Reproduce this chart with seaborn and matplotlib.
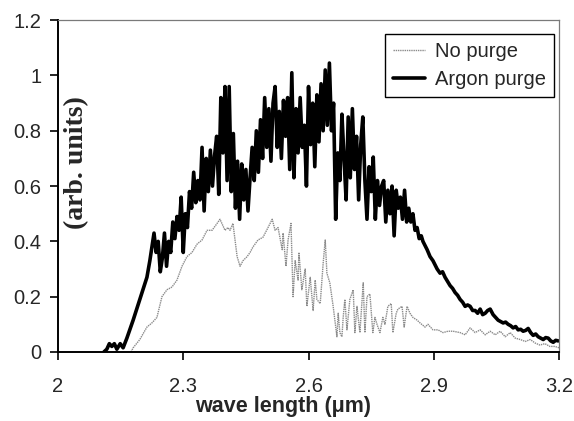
import matplotlib
matplotlib.use("Agg")
from matplotlib import pyplot as plt
import seaborn as sns
import pandas as pd

# Argon purge spectrum
argon_x = [2.110, 2.117, 2.123, 2.129, 2.135, 2.141, 2.149, 2.156, 2.165, 2.180, 2.196,
           2.213, 2.220, 2.225, 2.230, 2.235, 2.240, 2.245, 2.250, 2.255, 2.260, 2.265,
           2.270, 2.275, 2.280, 2.285, 2.290, 2.295, 2.300, 2.305, 2.310, 2.315, 2.320,
           2.325, 2.330, 2.335, 2.340, 2.345, 2.350, 2.355, 2.360, 2.365, 2.370, 2.375,
           2.380, 2.385, 2.390, 2.395, 2.400, 2.405, 2.410, 2.415, 2.420, 2.425, 2.430,
           2.435, 2.440, 2.445, 2.450, 2.455, 2.460, 2.465, 2.470, 2.475, 2.480, 2.485,
           2.490, 2.495, 2.500, 2.505, 2.510, 2.515, 2.520, 2.525, 2.530, 2.535, 2.540,
           2.545, 2.550, 2.555, 2.560, 2.565, 2.570, 2.575, 2.580, 2.585, 2.590, 2.595,
           2.600, 2.605, 2.610, 2.615, 2.620, 2.625, 2.630, 2.635, 2.640, 2.645, 2.650,
           2.655, 2.660, 2.665, 2.670, 2.675, 2.680, 2.685, 2.690, 2.695, 2.700, 2.705,
           2.710, 2.715, 2.720, 2.725, 2.730, 2.735, 2.740, 2.745, 2.750, 2.755, 2.760,
           2.765, 2.770, 2.775, 2.780, 2.785, 2.790, 2.795, 2.800, 2.805, 2.810, 2.815,
           2.820, 2.825, 2.830, 2.835, 2.840, 2.845, 2.850, 2.855, 2.860, 2.865, 2.870,
           2.874, 2.884, 2.891, 2.898, 2.908, 2.915, 2.921, 2.927, 2.933,
           2.939, 2.945, 2.951, 2.957, 2.963, 2.969, 2.975, 2.981, 2.987, 2.993, 2.999,
           3.005, 3.011, 3.017, 3.023, 3.029, 3.035, 3.042, 3.048, 3.054, 3.060, 3.066,
           3.072, 3.078, 3.084, 3.090, 3.096, 3.102, 3.108, 3.114, 3.120, 3.126, 3.132,
           3.138, 3.144, 3.150, 3.156, 3.162, 3.168, 3.174, 3.180, 3.186, 3.192, 3.198]
argon_y = [0.000, 0.010, 0.030, 0.020, 0.030, 0.010, 0.030, 0.015, 0.050, 0.115, 0.190,
           0.270, 0.330, 0.380, 0.430, 0.360, 0.400, 0.290, 0.340, 0.430, 0.310, 0.400,
           0.360, 0.470, 0.410, 0.490, 0.440, 0.560, 0.360, 0.500, 0.450, 0.580, 0.520,
           0.650, 0.540, 0.620, 0.550, 0.740, 0.510, 0.700, 0.580, 0.730, 0.600, 0.710,
           0.780, 0.570, 0.920, 0.720, 0.960, 0.620, 0.960, 0.580, 0.790, 0.520, 0.690,
           0.480, 0.680, 0.550, 0.660, 0.510, 0.630, 0.740, 0.620, 0.800, 0.650, 0.840,
           0.700, 0.920, 0.740, 0.880, 0.690, 0.900, 0.960, 0.740, 0.870, 0.700, 0.910,
           0.780, 0.920, 0.660, 1.010, 0.630, 0.880, 0.720, 0.920, 0.740, 0.820, 0.600,
           0.960, 0.750, 0.900, 0.670, 0.930, 0.760, 0.970, 0.800, 1.020, 0.820, 1.045,
           0.800, 0.900, 0.480, 0.720, 0.620, 0.860, 0.700, 0.550, 0.850, 0.630, 0.880,
           0.660, 0.780, 0.550, 0.750, 0.850, 0.620, 0.480, 0.670, 0.580, 0.705, 0.480,
           0.620, 0.530, 0.600, 0.620, 0.470, 0.585, 0.500, 0.600, 0.420, 0.585, 0.520,
           0.560, 0.480, 0.585, 0.470, 0.520, 0.470, 0.500, 0.440, 0.450, 0.410, 0.420,
           0.400, 0.370, 0.345, 0.330, 0.300, 0.285, 0.290, 0.270, 0.255,
           0.240, 0.230, 0.215, 0.205, 0.190, 0.180, 0.165, 0.170, 0.165, 0.150, 0.150,
           0.140, 0.155, 0.135, 0.140, 0.150, 0.155, 0.135, 0.125, 0.115, 0.110, 0.105,
           0.108, 0.100, 0.095, 0.087, 0.092, 0.080, 0.082, 0.075, 0.078, 0.085, 0.070,
           0.060, 0.065, 0.055, 0.050, 0.045, 0.052, 0.050, 0.040, 0.035, 0.042, 0.040]

# No purge spectrum
nopurge_x = [2.175, 2.180, 2.196, 2.213, 2.225, 2.237, 2.249, 2.261, 2.273, 2.285, 2.297,
             2.309, 2.321, 2.333, 2.345, 2.357, 2.369, 2.381, 2.388, 2.400, 2.407, 2.412,
             2.419, 2.429, 2.436, 2.443, 2.453, 2.460, 2.467, 2.479, 2.491, 2.503, 2.513,
             2.520, 2.527, 2.537, 2.539, 2.546, 2.551, 2.558, 2.563, 2.568, 2.575, 2.577,
             2.584, 2.592, 2.596, 2.604, 2.611, 2.616, 2.620, 2.628, 2.635, 2.640, 2.644,
             2.651, 2.659, 2.668, 2.671, 2.675, 2.680, 2.683, 2.687, 2.692, 2.699, 2.707,
             2.711, 2.716, 2.723, 2.731, 2.735, 2.740, 2.747, 2.754, 2.759, 2.764, 2.771,
             2.778, 2.783, 2.790, 2.798, 2.802, 2.810, 2.814, 2.824, 2.829, 2.836, 2.843,
             2.850, 2.860, 2.867, 2.879, 2.886, 2.898, 2.910, 2.922, 2.934, 2.946, 2.963,
             2.975, 2.987, 2.999, 3.011, 3.023, 3.035, 3.047, 3.059, 3.071, 3.083, 3.095,
             3.107, 3.119, 3.131, 3.143, 3.154, 3.166, 3.178, 3.190, 3.200]
nopurge_y = [0.000, 0.015, 0.045, 0.090, 0.105, 0.125, 0.200, 0.225, 0.235, 0.260, 0.310,
             0.345, 0.360, 0.390, 0.405, 0.440, 0.440, 0.465, 0.480, 0.440, 0.450, 0.440,
             0.465, 0.345, 0.310, 0.330, 0.345, 0.360, 0.380, 0.405, 0.415, 0.450, 0.480,
             0.440, 0.450, 0.370, 0.430, 0.310, 0.405, 0.465, 0.200, 0.330, 0.260, 0.360,
             0.225, 0.300, 0.165, 0.270, 0.150, 0.260, 0.190, 0.175, 0.320, 0.405, 0.285,
             0.250, 0.165, 0.055, 0.140, 0.070, 0.055, 0.125, 0.190, 0.080, 0.190, 0.225,
             0.070, 0.165, 0.070, 0.250, 0.070, 0.200, 0.210, 0.070, 0.125, 0.100, 0.070,
             0.125, 0.100, 0.165, 0.175, 0.070, 0.140, 0.155, 0.165, 0.090, 0.165, 0.140,
             0.125, 0.115, 0.105, 0.090, 0.100, 0.080, 0.080, 0.070, 0.075, 0.075, 0.070,
             0.062, 0.087, 0.070, 0.080, 0.062, 0.075, 0.062, 0.075, 0.055, 0.070, 0.050,
             0.045, 0.038, 0.045, 0.032, 0.025, 0.030, 0.020, 0.020, 0.015]

x_ticks = [2, 2.3, 2.6, 2.9, 3.2]
y_ticks = [0, 0.2, 0.4, 0.6, 0.8, 1.0, 1.2]
y_tick_labels = ["0", "0.2", "0.4", "0.6", "0.8", "1", "1.2"]

sns.set_style("ticks")
plt.rcParams["font.family"] = ["Liberation Sans", "DejaVu Sans"]

fig = plt.figure(figsize=(5.74, 4.21), dpi=100)
ax = fig.add_axes([0.101, 0.164, 0.873, 0.788])

sns.lineplot(x=nopurge_x, y=nopurge_y, ax=ax, sort=False, estimator=None,
             color="#8a8a8a", linewidth=1.0, linestyle=(0, (1, 0.6)), label="No purge")
sns.lineplot(x=argon_x, y=argon_y, ax=ax, sort=False, estimator=None,
             color="black", linewidth=2.6, label="Argon purge")

ax.set_xlim(2, 3.2)
ax.set_ylim(0, 1.2)
ax.set_xticks(x_ticks)
ax.set_xticklabels([f"{t:g}" for t in x_ticks])
ax.set_yticks(y_ticks)
ax.set_yticklabels(y_tick_labels)
ax.tick_params(axis="both", direction="out", length=6, width=1.2, labelsize=14.5, color="black")
ax.tick_params(axis="x", pad=12)
ax.tick_params(axis="y", pad=6)

for s in ["left", "bottom"]:
    ax.spines[s].set_color("black")
    ax.spines[s].set_linewidth(1.4)
for s in ["top", "right"]:
    ax.spines[s].set_visible(True)
    ax.spines[s].set_color("#7a7a7a")
    ax.spines[s].set_linewidth(0.9)

ax.set_xlabel("wave length (\u03bcm)", fontsize=15.5, fontweight="bold")
ax.xaxis.set_label_coords(0.449, -0.165)
ax.xaxis.label.set_va("center")

ax.text(0.038, 0.57, "(arb. units)", transform=ax.transAxes, rotation=90,
        ha="center", va="center", fontsize=20, fontweight="bold",
        family=["Liberation Serif", "DejaVu Serif"])
ax.set_ylabel("")

leg = ax.legend(loc="upper right", bbox_to_anchor=(0.990, 0.958), borderaxespad=0,
                fontsize=14.5, frameon=True, fancybox=False, framealpha=1,
                edgecolor="black", handlelength=1.6, handletextpad=0.5,
                labelspacing=0.45, borderpad=0.4)
leg.get_frame().set_linewidth(1.0)

fig.savefig("out.png", dpi=100)
